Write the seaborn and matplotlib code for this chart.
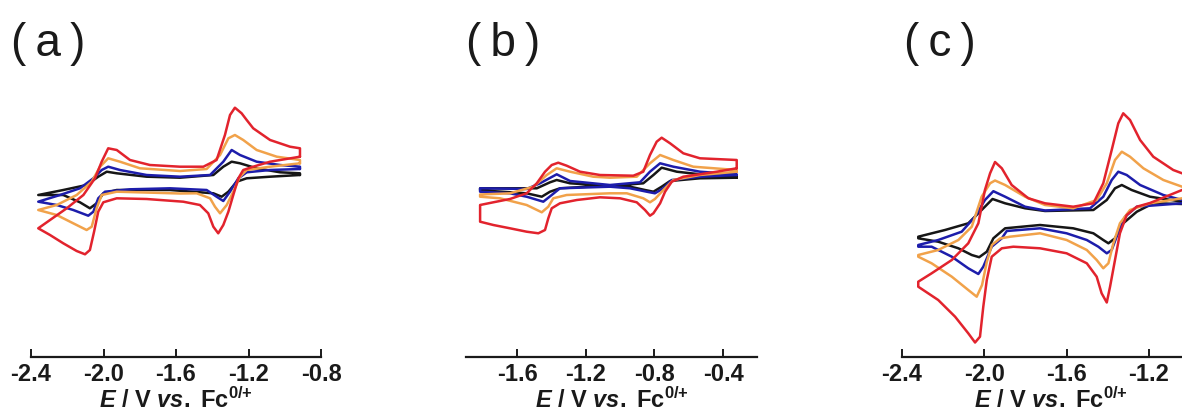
import matplotlib
matplotlib.use("Agg")
import matplotlib.pyplot as plt
import pandas as pd
import seaborn as sns

# ---- data: (potential / V vs Fc, current / arb. units), closed CV loops ----
RATES = ["slow", "medium", "fast", "fastest"]
COLORS = ["#161616", "#1d1dab", "#f1a24a", "#e2232d"]

A_BLACK = [(-0.916, 1.00), (-1.081, 0.83), (-1.210, 0.67), (-1.265, 0.33), (-1.311, -0.67), (-1.348, -1.17),
           (-1.394, -0.83), (-1.633, -0.50), (-1.927, -0.50), (-2.001, -0.83), (-2.038, -1.83), (-2.075, -2.33),
           (-2.130, -1.73), (-2.222, -1.00), (-2.360, -1.00), (-2.222, -0.50), (-2.093, 0.00), (-2.029, 0.83),
           (-1.982, 1.33), (-1.927, 1.17), (-1.762, 0.83), (-1.578, 0.73), (-1.394, 1.00), (-1.339, 1.83),
           (-1.293, 2.33), (-1.247, 2.17), (-1.155, 1.67), (-1.026, 1.27), (-0.916, 1.17)]
A_BLUE = [(-0.916, 1.60), (-1.081, 1.50), (-1.210, 1.27), (-1.256, 0.67), (-1.302, -0.67), (-1.339, -1.60),
          (-1.376, -1.17), (-1.431, -0.50), (-1.633, -0.33), (-1.854, -0.43), (-1.992, -0.67), (-2.029, -1.33),
          (-2.056, -2.67), (-2.084, -3.07), (-2.167, -2.50), (-2.258, -2.00), (-2.360, -1.67), (-2.240, -1.00),
          (-2.130, -0.33), (-2.056, 0.67), (-2.010, 1.50), (-1.974, 1.83), (-1.909, 1.50), (-1.762, 1.00),
          (-1.578, 0.83), (-1.412, 1.00), (-1.339, 2.33), (-1.293, 3.50), (-1.247, 3.00), (-1.155, 2.33),
          (-1.026, 2.00), (-0.916, 1.83)]
A_ORANGE = [(-0.916, 2.17), (-1.081, 1.83), (-1.210, 1.50), (-1.247, 0.83), (-1.284, -0.67), (-1.320, -2.00),
            (-1.357, -2.83), (-1.385, -2.17), (-1.412, -1.33), (-1.486, -0.83), (-1.578, -0.85), (-1.927, -0.67),
            (-2.010, -1.00), (-2.038, -2.33), (-2.065, -4.17), (-2.093, -4.50), (-2.167, -3.83), (-2.258, -3.00),
            (-2.360, -2.50), (-2.258, -2.00), (-2.148, -1.00), (-2.065, 0.33), (-2.019, 1.83), (-1.974, 2.67),
            (-1.909, 2.33), (-1.799, 1.67), (-1.578, 1.40), (-1.431, 1.60), (-1.357, 3.00), (-1.311, 4.67),
            (-1.275, 5.00), (-1.229, 4.50), (-1.155, 3.50), (-1.044, 2.83), (-0.916, 2.50)]
A_RED = [(-0.916, 2.83), (-1.081, 2.33), (-1.174, 1.83), (-1.229, 1.50), (-1.256, 0.67), (-1.284, -1.00),
         (-1.311, -2.67), (-1.339, -4.00), (-1.367, -4.83), (-1.394, -4.17), (-1.422, -2.83), (-1.468, -2.00),
         (-1.560, -1.67), (-1.762, -1.40), (-1.927, -1.33), (-2.001, -1.73), (-2.029, -2.67), (-2.052, -4.67),
         (-2.075, -6.50), (-2.102, -6.93), (-2.148, -6.60), (-2.222, -5.83), (-2.295, -5.00), (-2.360, -4.33),
         (-2.295, -3.50), (-2.203, -2.33), (-2.111, -1.00), (-2.047, 0.67), (-2.010, 2.33), (-1.974, 3.67),
         (-1.927, 3.50), (-1.854, 2.50), (-1.744, 2.00), (-1.578, 1.83), (-1.449, 1.83), (-1.376, 2.50),
         (-1.330, 5.00), (-1.302, 7.00), (-1.275, 7.73), (-1.238, 7.17), (-1.210, 6.50), (-1.174, 5.67),
         (-1.081, 4.50), (-0.971, 3.83), (-0.916, 3.67)]

B_BLACK = [(-0.321, 0.73), (-0.535, 0.67), (-0.709, 0.40), (-0.758, -0.17), (-0.806, -0.67), (-0.855, -0.50),
           (-0.942, -0.17), (-1.117, -0.10), (-1.350, -0.33), (-1.408, -0.67), (-1.456, -1.17), (-1.544, -0.83),
           (-1.815, -0.53), (-1.815, -0.33), (-1.485, -0.33), (-1.408, 0.27), (-1.369, 0.50), (-1.291, 0.17),
           (-1.059, -0.10), (-0.865, 0.17), (-0.806, 1.00), (-0.758, 1.73), (-0.670, 1.33), (-0.535, 1.07),
           (-0.321, 0.83)]
B_BLUE = [(-0.321, 1.00), (-0.535, 0.83), (-0.699, 0.50), (-0.748, -0.33), (-0.797, -0.83), (-0.845, -0.67),
          (-0.942, -0.33), (-1.059, -0.17), (-1.350, -0.33), (-1.398, -1.00), (-1.447, -1.67), (-1.544, -1.17),
          (-1.641, -0.83), (-1.815, -0.67), (-1.815, -0.33), (-1.544, -0.40), (-1.466, 0.17), (-1.369, 1.07),
          (-1.291, 0.40), (-1.059, 0.00), (-0.884, 0.27), (-0.826, 1.33), (-0.767, 2.17), (-0.690, 1.83),
          (-0.535, 1.33), (-0.321, 1.07)]
B_ORANGE = [(-0.321, 1.33), (-0.535, 1.00), (-0.690, 0.50), (-0.748, -0.50), (-0.797, -1.40), (-0.826, -1.73),
            (-0.865, -1.33), (-0.961, -0.83), (-1.059, -0.83), (-1.311, -1.00), (-1.389, -1.33), (-1.418, -2.17),
            (-1.456, -2.73), (-1.544, -2.00), (-1.699, -1.33), (-1.815, -1.17), (-1.815, -0.95), (-1.641, -0.83),
            (-1.505, -0.17), (-1.427, 1.00), (-1.369, 1.67), (-1.291, 1.33), (-1.156, 0.83), (-1.059, 0.73),
            (-0.903, 0.83), (-0.826, 2.17), (-0.767, 3.00), (-0.690, 2.50), (-0.574, 1.83), (-0.321, 1.50)]
B_RED = [(-0.321, 1.67), (-0.437, 1.33), (-0.632, 0.83), (-0.699, 0.33), (-0.738, -0.67), (-0.767, -1.83),
         (-0.806, -2.83), (-0.826, -3.07), (-0.855, -2.50), (-0.903, -1.73), (-1.000, -1.33), (-1.117, -1.23),
         (-1.252, -1.50), (-1.350, -1.83), (-1.398, -2.33), (-1.418, -3.33), (-1.437, -4.50), (-1.476, -4.83),
         (-1.544, -4.67), (-1.641, -4.33), (-1.738, -4.00), (-1.815, -3.67), (-1.815, -2.00), (-1.738, -1.73),
         (-1.641, -1.40), (-1.544, -0.83), (-1.485, 0.17), (-1.437, 1.33), (-1.398, 2.00), (-1.360, 2.23),
         (-1.311, 1.93), (-1.233, 1.33), (-1.117, 1.00), (-0.923, 0.93), (-0.865, 1.33), (-0.826, 3.00),
         (-0.787, 4.33), (-0.758, 4.73), (-0.709, 4.17), (-0.632, 3.17), (-0.535, 2.67), (-0.321, 2.50)]

C_BLACK = [(-0.97, -2.10), (-1.039, -1.90), (-1.179, -1.83), (-1.259, -2.67), (-1.325, -3.83), (-1.365, -5.33),
           (-1.397, -5.83), (-1.422, -5.50), (-1.470, -4.83), (-1.568, -4.33), (-1.729, -4.00), (-1.899, -4.33),
           (-1.956, -5.33), (-1.988, -6.67), (-2.025, -7.22), (-2.061, -7.00), (-2.126, -6.33), (-2.224, -5.67),
           (-2.321, -5.33), (-2.321, -5.17), (-2.191, -4.50), (-2.078, -3.83), (-2.013, -2.50), (-1.960, -1.40),
           (-1.899, -1.83), (-1.802, -2.33), (-1.705, -2.60), (-1.470, -2.50), (-1.405, -1.50), (-1.365, -0.33),
           (-1.332, 0.00), (-1.284, -0.50), (-1.195, -1.17), (-1.039, -1.67), (-0.97, -1.75)]
C_BLUE = [(-0.97, -1.70), (-1.039, -1.83), (-1.259, -2.17), (-1.316, -3.17), (-1.357, -5.17), (-1.381, -6.50),
          (-1.405, -6.83), (-1.446, -6.17), (-1.502, -5.50), (-1.600, -4.83), (-1.729, -4.33), (-1.891, -4.60),
          (-1.915, -5.33), (-1.964, -6.17), (-2.005, -8.17), (-2.029, -8.90), (-2.078, -8.33), (-2.158, -7.17),
          (-2.256, -6.17), (-2.321, -6.17), (-2.321, -6.00), (-2.224, -5.50), (-2.110, -4.67), (-2.045, -3.17),
          (-1.997, -1.50), (-1.956, -0.62), (-1.899, -1.17), (-1.802, -2.17), (-1.705, -2.55), (-1.486, -2.33),
          (-1.422, -1.17), (-1.381, 0.50), (-1.349, 1.33), (-1.308, 1.00), (-1.243, 0.00), (-1.130, -1.00),
          (-1.039, -1.50), (-0.97, -1.60)]
C_ORANGE = [(-0.97, -0.90), (-1.039, -1.33), (-1.195, -1.83), (-1.292, -2.50), (-1.341, -3.83), (-1.373, -5.83),
            (-1.397, -7.83), (-1.422, -8.33), (-1.454, -7.50), (-1.502, -6.50), (-1.600, -5.50), (-1.729, -4.83),
            (-1.875, -5.17), (-1.924, -5.35), (-1.963, -6.00), (-1.988, -7.70), (-2.011, -10.00), (-2.037, -11.17),
            (-2.078, -10.50), (-2.158, -9.17), (-2.256, -7.83), (-2.321, -7.17), (-2.321, -7.00), (-2.224, -6.50),
            (-2.126, -5.50), (-2.061, -4.17), (-2.013, -1.17), (-1.972, 0.17), (-1.948, 0.45), (-1.899, 0.00),
            (-1.802, -1.17), (-1.705, -2.00), (-1.568, -2.33), (-1.454, -1.50), (-1.405, 0.17), (-1.365, 2.50),
            (-1.332, 3.33), (-1.292, 2.83), (-1.227, 1.67), (-1.130, 0.50), (-1.039, -0.17), (-0.97, -0.30)]
C_RED = [(-0.97, -0.60), (-1.039, -0.50), (-1.195, -1.80), (-1.259, -2.17), (-1.308, -3.00), (-1.341, -4.83),
         (-1.365, -7.50), (-1.389, -10.17), (-1.405, -11.75), (-1.430, -10.83), (-1.454, -9.17), (-1.502, -7.83),
         (-1.600, -6.83), (-1.729, -6.33), (-1.859, -6.17), (-1.915, -6.33), (-1.964, -7.17), (-1.988, -9.50),
         (-2.005, -12.17), (-2.021, -15.17), (-2.045, -15.75), (-2.078, -14.83), (-2.142, -13.17), (-2.224, -11.50),
         (-2.321, -10.17), (-2.321, -9.67), (-2.256, -8.83), (-2.158, -7.50), (-2.078, -5.83), (-2.029, -3.83),
         (-1.997, -0.50), (-1.972, 1.17), (-1.948, 2.30), (-1.915, 1.67), (-1.867, 0.00), (-1.786, -1.33),
         (-1.705, -1.83), (-1.568, -2.17), (-1.470, -1.83), (-1.422, 0.17), (-1.381, 3.50), (-1.349, 6.17),
         (-1.325, 7.17), (-1.292, 6.50), (-1.243, 4.50), (-1.179, 2.83), (-1.082, 1.50), (-1.039, 1.17),
         (-0.97, 0.90)]

PANELS = ["(\u2009a\u2009)", "(\u2009b\u2009)", "(\u2009c\u2009)"]
XLIMS = [(-2.4, -0.8), (-1.9, -0.2), (-2.4, -0.95)]
XTICKS = [[-2.4, -2.0, -1.6, -1.2, -0.8], [-1.6, -1.2, -0.8, -0.4], [-2.4, -2.0, -1.6, -1.2]]
XTICKLABELS = [["-2.4", "-2.0", "-1.6", "-1.2", "-0.8"], ["-1.6", "-1.2", "-0.8", "-0.4"],
               ["-2.4", "-2.0", "-1.6", "-1.2"]]
CURVES = [[A_BLACK, A_BLUE, A_ORANGE, A_RED], [B_BLACK, B_BLUE, B_ORANGE, B_RED],
          [C_BLACK, C_BLUE, C_ORANGE, C_RED]]

# ---- styling ----
sns.set_theme(style="white")
plt.rcParams["font.family"] = ["Liberation Sans", "DejaVu Sans"]
plt.rcParams["mathtext.fontset"] = "custom"
plt.rcParams["mathtext.rm"] = "Liberation Sans:bold"
plt.rcParams["mathtext.it"] = "Liberation Sans:italic:bold"
plt.rcParams["mathtext.bf"] = "Liberation Sans:bold"

W, H = 1182, 419
fig = plt.figure(figsize=(W / 100, H / 100), dpi=100)

# axes placement in pixels: (left, right) ; shared bottom / top
AX_PIX = [(31, 321), (465.5, 757.5), (902, 1200.4)]
BOTTOM_PIX, TOP_PIX = 357, 60
YLIM = ((185 - BOTTOM_PIX) / 10, (185 - TOP_PIX) / 10)
LABEL_POS = [(11, 44), (466, 44), (904, 44)]

for k in range(3):
    l, r = AX_PIX[k]
    ax = fig.add_axes([l / W, (H - BOTTOM_PIX) / H, (r - l) / W, (BOTTOM_PIX - TOP_PIX) / H])
    rows = []
    for ci, curve in enumerate(CURVES[k]):
        pts = list(curve) + [curve[0]]
        for j, (e, cur) in enumerate(pts):
            rows.append({"E": e, "I": cur, "rate": RATES[ci], "n": j})
    df = pd.DataFrame(rows)
    sns.lineplot(data=df, x="E", y="I", hue="rate", hue_order=RATES, palette=COLORS,
                 sort=False, estimator=None, legend=False, linewidth=1.8, ax=ax,
                 solid_joinstyle="round", solid_capstyle="round")
    ax.set_xlim(*XLIMS[k])
    ax.set_ylim(*YLIM)
    ax.set_xticks(XTICKS[k])
    ax.set_xticklabels(XTICKLABELS[k], fontweight="bold", fontsize=17)
    ax.set_yticks([])
    ax.set_ylabel("")
    for s in ["left", "right", "top"]:
        ax.spines[s].set_visible(False)
    ax.spines["bottom"].set_linewidth(1.6)
    ax.spines["bottom"].set_color("#1a1a1a")
    ax.tick_params(axis="x", direction="in", length=5.5, width=1.4, color="#1a1a1a", pad=4,
                   labelcolor="#1a1a1a", bottom=True)
    ax.set_xlabel(r"$\mathit{E}$ / V $\mathit{vs.}$ Fc$^{0/{+}}$", fontsize=17, fontweight="bold",
                  color="#1a1a1a", labelpad=1)
    ax.patch.set_alpha(0)
    lx, ly = LABEL_POS[k]
    fig.text(lx / W, 1 - ly / H, PANELS[k], fontsize=33, ha="left", va="center", color="#1a1a1a")

fig.savefig("out.png", dpi=100)
